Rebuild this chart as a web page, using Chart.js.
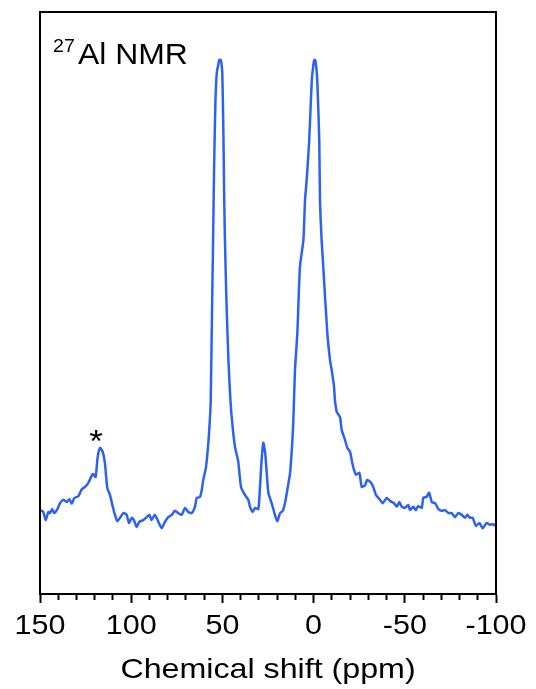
<!DOCTYPE html>
<html>
<head>
<meta charset="utf-8">
<script src="https://cdn.jsdelivr.net/npm/chart.js@4/dist/chart.umd.min.js"></script>
<style>
html,body{margin:0;padding:0;background:#fff;}
#wrap{width:536px;height:689px;position:relative;}
</style>
</head>
<body>
<div id="wrap"><canvas id="c" width="536" height="689"></canvas></div>
<script>
// Chemical shift (ppm)
const shiftPpm = [149.5,148.2,146.9,145.4,144.5,143.3,142.2,140.8,139.0,137.2,135.4,133.9,132.6,131.2,129.0,127.1,125.3,123.5,121.7,120.8,119.5,118.4,117.1,115.6,114.4,113.1,111.6,110.1,108.9,107.6,106.1,104.3,102.5,101.2,99.7,98.5,97.0,95.6,93.4,91.5,90.1,88.8,87.0,85.1,83.3,81.5,79.7,77.8,76.0,74.2,72.3,70.5,68.7,66.8,65.0,64.1,62.3,61.3,60.5,59.0,57.7,56.8,56.4,55.6,55.1,54.6,53.9,53.1,52.1,51.75,51.3,50.9,50.55,50.05,49.4,49.0,48.6,47.8,46.7,45.6,44.5,43.1,41.3,39.8,37.6,35.8,34.9,33.4,32.1,30.3,29.4,28.5,27.6,26.6,25.7,24.8,23.0,21.2,19.9,18.4,16.9,15.7,14.4,12.9,11.7,11.1,10.2,8.9,7.5,5.6,4.7,3.8,2.4,1.0,0.2,-0.2,-0.6,-1.0,-1.4,-2.0,-3.1,-3.5,-4.4,-5.3,-7.5,-9.0,-9.9,-11.2,-11.7,-12.7,-14.5,-15.4,-17.2,-18.5,-20.0,-21.4,-23.2,-25.1,-26.4,-28.2,-29.4,-31.3,-32.7,-34.2,-36.4,-37.9,-40.1,-41.9,-44.1,-45.6,-47.0,-48.3,-50.1,-51.9,-52.9,-54.7,-56.0,-57.4,-59.3,-60.1,-62.0,-63.3,-64.8,-66.6,-68.4,-70.2,-72.0,-73.9,-75.7,-77.5,-79.3,-81.2,-83.0,-84.3,-85.7,-87.2,-89.0,-90.9,-92.7,-94.9,-96.7,-98.5,-99.8];
// Intensity (arbitrary units, 0-100 = full height of the frame)
const intensity = [14.4,14.1,12.7,14.1,13.9,14.6,13.9,14.4,15.6,16.2,15.8,16.3,15.5,16.5,16.8,18.0,18.4,19.1,20.3,20.6,20.1,23.5,25.1,24.4,22.5,18.2,17.0,15.0,13.6,12.5,13.1,13.9,13.6,12.2,13.1,12.7,11.5,12.4,12.7,13.2,13.6,12.7,13.6,12.4,11.3,12.4,13.2,13.6,14.3,13.9,13.6,14.8,14.1,13.9,15.0,16.5,16.7,17.9,19.6,21.8,26.0,30.4,33.3,50.5,60.8,72.3,83.7,89.5,91.2,91.7,91.8,91.7,91.2,89.5,78.0,67.7,60.8,50.5,40.2,33.3,29.0,25.3,22.7,18.4,17.0,16.2,15.0,14.1,14.8,14.6,18.4,23.0,26.0,24.4,20.8,17.4,15.6,13.6,12.5,13.9,14.3,15.6,17.9,20.8,26.0,29.9,38.5,44.9,56.2,60.8,67.7,71.1,78.0,88.3,90.7,91.6,91.8,91.6,90.7,88.3,78.0,67.7,60.8,56.2,44.9,40.2,38.5,35.6,33.3,31.3,30.4,28.2,26.5,25.1,24.4,22.2,20.5,20.8,18.4,18.7,19.6,19.2,18.4,17.0,16.2,15.6,16.5,16.0,15.6,15.0,15.8,15.0,14.8,15.3,14.4,15.0,14.4,15.1,14.8,16.5,16.7,17.4,15.8,15.6,14.6,14.3,14.4,13.9,13.9,13.2,13.9,13.6,13.1,13.6,13.1,13.1,11.7,12.2,11.3,12.2,11.9,12.0,11.7];
const xTickLabels = [150,100,50,0,-50,-100];
const xTitle = 'Chemical shift (ppm)';
const panelTitleSup = '27';
const panelTitle = 'Al NMR';
const markerText = '*';
const markerPpm = 119.3;       // centre of the asterisk
const markerIntensity = 27.5;

const points = shiftPpm.map((v,i)=>({x:v,y:intensity[i]}));

function drawStretched(ctx, text, x, y, font, sx, align){
  ctx.save();
  ctx.font = font;
  ctx.textBaseline = 'alphabetic';
  const w = ctx.measureText(text).width * sx;
  let left = x;
  if (align === 'center') left = x - w/2;
  ctx.translate(left, y);
  ctx.scale(sx, 1);
  ctx.textAlign = 'left';
  ctx.fillText(text, 0, 0);
  ctx.restore();
}

const FONT = '"Liberation Sans", Arial, sans-serif';
const decor = {
  id:'decor',
  afterDraw(chart){
    const ctx = chart.ctx, a = chart.chartArea, xs = chart.scales.x, ys = chart.scales.y;
    ctx.save();
    ctx.strokeStyle = '#000';
    ctx.lineWidth = 2;
    ctx.strokeRect(a.left, a.top, a.right - a.left, a.bottom - a.top);
    ctx.fillStyle = '#000';
    xTickLabels.forEach(v=>{
      drawStretched(ctx, String(v), xs.getPixelForValue(v), 634, '27px ' + FONT, 1.13, 'center');
    });
    drawStretched(ctx, xTitle, (a.left + a.right)/2, 678, '28px ' + FONT, 1.15, 'center');
    drawStretched(ctx, panelTitleSup, 53, 52, '19px ' + FONT, 1.03, 'left');
    drawStretched(ctx, panelTitle, 78, 64, '29px ' + FONT, 1.1, 'left');
    const fs = 32;
    drawStretched(ctx, markerText, xs.getPixelForValue(markerPpm), ys.getPixelForValue(markerIntensity) + 0.57*fs, fs + 'px ' + FONT, 1.1, 'center');
    ctx.restore();
  }
};

new Chart(document.getElementById('c'), {
  type:'line',
  data:{datasets:[{
    data: points,
    borderColor:'#2d62ee',
    borderWidth:2.5,
    pointRadius:0,
    fill:false,
    tension:0.2,
    borderJoinStyle:'round'
  }]},
  options:{
    responsive:false,
    animation:false,
    events:[],
    layout:{padding:{left:40,right:40,top:12,bottom:0}},
    plugins:{legend:{display:false},tooltip:{enabled:false}},
    scales:{
      x:{
        type:'linear', min:-100, max:150, reverse:true,
        ticks:{display:false, stepSize:10},
        grid:{
          drawOnChartArea:false, drawTicks:true, tickLength:9,
          tickColor:'#000', tickWidth:2,
          tickBorderDash:(ctx)=> (ctx.tick && Math.round(ctx.tick.value) % 50 !== 0) ? [5, 40] : []
        },
        border:{display:true, color:'#000', width:2},
        afterFit:(s)=>{ s.height = 95; }
      },
      y:{type:'linear', min:0, max:100, display:false}
    }
  },
  plugins:[decor]
});
</script>
</body>
</html>
